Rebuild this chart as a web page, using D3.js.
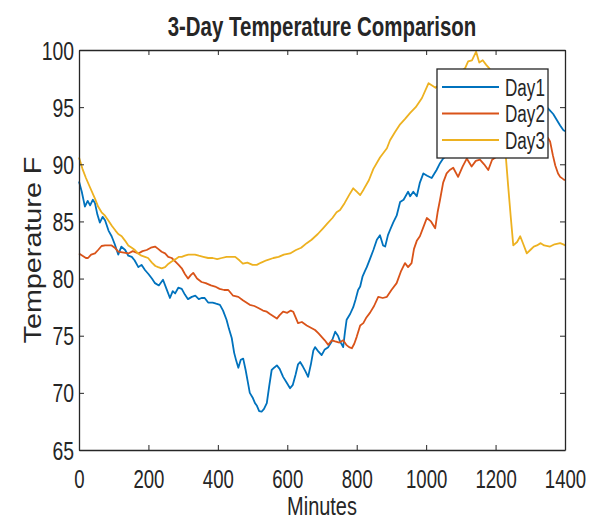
<!DOCTYPE html>
<html>
<head>
<meta charset="utf-8">
<script src="https://cdn.jsdelivr.net/npm/d3@7"></script>
<style>
  body { margin: 0; background: #fff; }
  svg { display: block; }
  text { font-family: "Liberation Sans", Arial, sans-serif; fill: #262626; }
</style>
</head>
<body>
<svg id="chart"></svg>
<script>
// values: [minute, temperature F]
const day1 = [[0,88.5],[8,87.6],[17,86.3],[25,86.8],[32,86.4],[40,86.9],[46,86.6],[53,85.6],[60,84.9],[68,85.4],[75,85.1],[85,84.2],[94,83.7],[103,83.0],[113,82.1],[122,82.8],[133,82.5],[142,82.0],[152,81.9],[160,81.6],[171,81.0],[180,81.2],[190,80.75],[200,80.4],[210,80.0],[219,79.6],[230,79.4],[242,79.9],[252,79.1],[262,78.3],[270,78.9],[277,78.7],[286,79.2],[296,79.1],[305,78.6],[314,78.2],[325,78.4],[335,78.5],[345,78.2],[353,78.3],[362,78.3],[372,77.9],[385,77.9],[395,77.8],[406,77.7],[415,77.2],[425,76.4],[432,75.6],[440,74.8],[447,73.5],[453,72.8],[459,72.2],[466,72.9],[473,73.0],[480,72.0],[486,71.0],[492,70.0],[500,69.6],[507,69.1],[512,68.9],[519,68.4],[526,68.35],[533,68.6],[541,69.1],[548,70.6],[555,72.0],[562,72.2],[570,72.4],[578,72.1],[588,71.4],[598,70.9],[608,70.4],[616,70.7],[624,71.6],[631,72.5],[637,72.7],[645,72.3],[652,71.9],[660,71.4],[668,72.5],[675,73.7],[680,74.0],[690,73.6],[699,73.3],[708,73.8],[718,74.0],[728,74.5],[738,75.35],[746,75.0],[752,74.5],[761,74.0],[766,75.3],[771,76.4],[781,76.9],[790,77.5],[797,78.2],[804,79.0],[810,79.3],[817,80.2],[823,80.6],[829,81.0],[838,81.7],[848,82.5],[858,83.4],[867,83.8],[876,82.9],[882,82.8],[890,83.8],[896,84.25],[905,84.9],[915,85.5],[925,86.7],[935,86.9],[948,87.6],[954,87.2],[963,87.6],[973,87.2],[982,88.4],[992,89.2],[1003,89.0],[1016,88.8],[1030,89.5],[1040,90.1],[1049,90.5],[1070,91.0],[1100,91.6],[1130,92.2],[1160,92.8],[1190,93.3],[1220,93.8],[1250,94.3],[1280,94.7],[1310,95.0],[1340,95.1],[1351,94.9],[1357,94.7],[1366,94.4],[1376,93.9],[1386,93.4],[1395,93.0],[1400,92.9]];

const day2 = [[0,82.2],[10,82.0],[20,81.8],[26,81.8],[35,82.1],[46,82.2],[55,82.5],[65,82.85],[75,82.9],[85,82.9],[94,82.9],[103,82.7],[113,82.35],[125,82.3],[142,82.2],[155,82.4],[171,82.2],[183,82.4],[195,82.5],[207,82.7],[219,82.8],[228,82.6],[238,82.35],[248,82.2],[257,81.9],[267,81.8],[277,81.5],[287,81.2],[296,80.9],[305,80.4],[314,80.0],[322,80.3],[329,80.5],[340,80.0],[353,79.7],[365,79.6],[380,79.4],[392,79.3],[405,79.1],[418,79.0],[430,79.0],[444,78.5],[459,78.4],[472,78.1],[482,77.9],[492,77.7],[505,77.6],[518,77.4],[530,77.2],[541,77.1],[550,76.9],[560,76.7],[570,76.5],[578,76.8],[588,77.1],[600,77.0],[610,77.2],[617,77.1],[624,76.6],[631,76.1],[642,76.2],[656,75.9],[668,75.7],[680,75.5],[690,75.2],[699,74.9],[708,74.6],[718,74.2],[728,74.6],[738,74.5],[750,74.4],[761,74.6],[770,74.2],[778,74.0],[786,73.9],[793,74.3],[800,74.9],[810,75.9],[819,76.1],[828,76.6],[838,77.0],[850,77.6],[862,78.4],[875,78.3],[887,78.4],[900,79.0],[915,79.6],[927,80.6],[939,81.35],[948,81.0],[958,81.35],[965,82.6],[973,83.3],[982,83.7],[992,84.5],[1002,85.3],[1014,85.0],[1026,84.4],[1033,85.8],[1040,86.9],[1049,88.4],[1059,89.2],[1068,89.5],[1078,89.7],[1092,88.9],[1105,89.8],[1117,90.5],[1131,89.8],[1143,90.3],[1155,90.4],[1167,90.0],[1179,89.5],[1190,90.4],[1220,91.0],[1250,91.5],[1280,92.0],[1310,92.3],[1340,92.5],[1351,92.3],[1357,92.0],[1365,90.8],[1372,89.9],[1380,89.2],[1386,88.9],[1395,88.7],[1400,88.6]];

const day3 = [[0,90.6],[10,89.6],[20,88.8],[30,88.1],[46,87.0],[55,86.3],[65,85.8],[75,85.5],[84,85.1],[95,84.6],[105,84.2],[113,83.9],[123,83.7],[133,83.3],[142,82.9],[152,82.7],[161,82.5],[170,82.2],[180,82.0],[190,81.9],[199,81.8],[210,81.4],[220,81.1],[228,81.0],[238,80.9],[248,81.0],[258,81.3],[267,81.5],[278,81.7],[288,81.9],[296,81.9],[305,82.0],[315,82.1],[325,82.1],[334,82.1],[345,82.0],[358,81.9],[372,81.8],[385,81.8],[398,81.7],[411,81.8],[425,81.9],[440,81.9],[450,81.9],[462,81.6],[472,81.3],[485,81.4],[500,81.2],[512,81.2],[525,81.4],[540,81.6],[560,81.8],[575,81.9],[590,82.1],[608,82.2],[625,82.5],[640,82.7],[656,83.1],[670,83.4],[688,83.9],[703,84.4],[715,84.8],[730,85.3],[742,85.8],[752,86.0],[765,86.6],[778,87.3],[790,87.9],[800,87.6],[810,87.3],[820,87.8],[835,88.6],[848,89.6],[867,90.6],[887,91.4],[896,92.1],[910,92.8],[925,93.5],[940,94.0],[954,94.5],[970,95.0],[988,95.8],[1007,97.1],[1027,96.7],[1050,97.3],[1075,97.8],[1100,98.1],[1112,98.4],[1121,99.0],[1132,99.1],[1144,99.85],[1153,98.9],[1163,99.1],[1173,98.7],[1182,98.4],[1195,97.5],[1210,95.0],[1222,92.0],[1230,90.5],[1236,88.2],[1244,85.3],[1251,82.9],[1262,83.2],[1271,83.7],[1280,83.0],[1290,82.2],[1300,82.5],[1310,82.8],[1319,82.9],[1330,83.1],[1340,82.9],[1357,82.8],[1370,83.0],[1386,83.1],[1395,83.0],[1400,82.9]];

const seriesNames = ["Day1", "Day2", "Day3"];
const seriesColors = ["#0072BD", "#D95319", "#EDB120"];
const xTicks = [0, 200, 400, 600, 800, 1000, 1200, 1400];
const yTicks = [65, 70, 75, 80, 85, 90, 95, 100];

const width = 595, height = 522;
const plotLeft = 79, plotRight = 565, plotTop = 50, plotBottom = 450;
// the reference picture is stretched vertically, so text is stretched too
const stretchY = 1.25;

const svg = d3.select('#chart')
  .attr('width', width)
  .attr('height', height);

const xScale = d3.scaleLinear().domain([0, 1400]).range([plotLeft, plotRight]);
const yScale = d3.scaleLinear().domain([65, 100]).range([plotBottom, plotTop]);

// puts a text at (x, y) scaled by sx, sy around its anchor
function stretchText(sel, x, y, sx, sy) {
  sel.attr('x', 0).attr('y', 0)
    .attr('transform', `translate(${x},${y}) scale(${sx},${sy})`);
}

// lines
const line = d3.line()
  .x(d => xScale(d[0]))
  .y(d => yScale(d[1]));

const plot = svg.append('g');
[day1, day2, day3].forEach((s, i) => {
  plot.append('path')
    .datum(s)
    .attr('fill', 'none')
    .attr('stroke', seriesColors[i])
    .attr('stroke-width', 1.8)
    .attr('stroke-linejoin', 'round')
    .attr('d', line);
});

// axes (ticks pointing inward, box on all sides)
function styleAxis(g) {
  g.select('.domain').attr('stroke', '#262626').attr('stroke-width', 1.3);
  g.selectAll('.tick line').attr('stroke', '#262626').attr('stroke-width', 1);
  g.selectAll('text').attr('fill', '#262626').style('font-size', '20px').attr('dy', null);
}

svg.append('g')
  .attr('transform', `translate(0, ${plotBottom})`)
  .call(d3.axisBottom(xScale).tickValues(xTicks).tickFormat(d3.format('d')).tickSizeInner(-5).tickSizeOuter(0))
  .call(styleAxis)
  .call(g => g.selectAll('.tick text').each(function() {
    stretchText(d3.select(this), 0, 38, 0.93, stretchY);
  }));

svg.append('g')
  .attr('transform', `translate(0, ${plotTop})`)
  .call(d3.axisTop(xScale).tickValues(xTicks).tickSizeInner(-5).tickSizeOuter(0).tickFormat(''))
  .call(styleAxis);

svg.append('g')
  .attr('transform', `translate(${plotLeft}, 0)`)
  .call(d3.axisLeft(yScale).tickValues(yTicks).tickSizeInner(-5).tickSizeOuter(0))
  .call(styleAxis)
  .call(g => g.selectAll('.tick text').each(function() {
    stretchText(d3.select(this), -5, 9, 0.97, stretchY);
  }));

svg.append('g')
  .attr('transform', `translate(${plotRight}, 0)`)
  .call(d3.axisRight(yScale).tickValues(yTicks).tickSizeInner(-5).tickSizeOuter(0).tickFormat(''))
  .call(styleAxis);

// title and axis labels
svg.append('text')
  .attr('text-anchor', 'middle')
  .style('font-size', '22px')
  .style('font-weight', 'bold')
  .attr('fill', '#000')
  .text('3-Day Temperature Comparison')
  .call(stretchText, 322, 36, 0.93, stretchY);

svg.append('text')
  .attr('text-anchor', 'middle')
  .style('font-size', '21px')
  .text('Minutes')
  .call(stretchText, 322, 515, 0.95, stretchY);

svg.append('text')
  .attr('text-anchor', 'middle')
  .style('font-size', '23px')
  .text('Temperature F')
  .attr('transform', `translate(41, ${(plotTop + plotBottom) / 2}) rotate(-90) scale(${stretchY},1)`);

// legend
const legend = svg.append('g').attr('transform', 'translate(437, 69)');
legend.append('rect')
  .attr('width', 111)
  .attr('height', 89)
  .attr('fill', '#fff')
  .attr('stroke', '#262626')
  .attr('stroke-width', 1.3);

seriesNames.forEach((name, i) => {
  const ly = 18 + i * 26.5;
  legend.append('line')
    .attr('x1', 5).attr('x2', 62)
    .attr('y1', ly).attr('y2', ly)
    .attr('stroke', seriesColors[i])
    .attr('stroke-width', 1.8);
  legend.append('text')
    .style('font-size', '19px')
    .text(name)
    .call(stretchText, 68, ly + 8.5, 0.9, stretchY);
});
</script>
</body>
</html>
